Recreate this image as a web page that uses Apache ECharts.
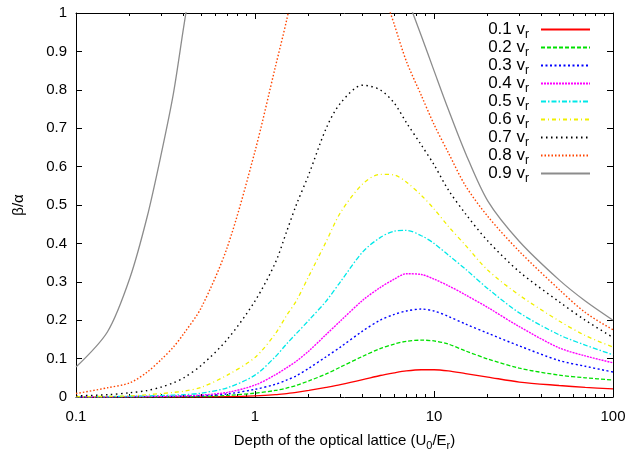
<!DOCTYPE html>
<html>
<head>
<meta charset="utf-8">
<script src="https://cdn.jsdelivr.net/npm/echarts@6/dist/echarts.min.js"></script>
<style>html,body{margin:0;padding:0;background:#fff}#c{width:629px;height:457px}</style>
</head>
<body>
<div id="c"></div>
<script>
// Depth of the optical lattice (U0/Er) sample points
const depth = [0.1, 0.15, 0.2, 0.25, 0.3, 0.35, 0.4, 0.5, 0.7, 1, 1.3, 1.5, 1.7, 2, 2.5, 3, 4, 5, 6, 7, 8.5, 10, 12, 15, 20, 30, 50, 70, 100];

// legend labels (velocity in units of v_r)
const speeds = ['0.1', '0.2', '0.3', '0.4', '0.5', '0.6', '0.7', '0.8', '0.9'];

// beta/alpha values for each velocity (null = off the top of the plot)
const v01 = [0.0001,0.0001,0.0001,0.0002,0.0002,0.0003,0.0003,0.0005,0.001,0.003,0.006,0.009,0.012,0.017,0.025,0.032,0.045,0.056,0.063,0.068,0.071,0.071,0.068,0.061,0.052,0.039,0.030,0.025,0.021];
const v02 = [0.0002,0.0003,0.0004,0.0005,0.0006,0.0008,0.001,0.0015,0.004,0.01,0.017,0.023,0.03,0.042,0.06,0.078,0.106,0.126,0.138,0.145,0.148,0.146,0.138,0.12,0.099,0.075,0.057,0.05,0.044];
const v03 = [0.0003,0.0005,0.0007,0.001,0.0013,0.0016,0.002,0.003,0.008,0.02,0.033,0.044,0.055,0.075,0.105,0.13,0.172,0.2,0.215,0.224,0.229,0.224,0.21,0.19,0.166,0.133,0.095,0.08,0.065];
const v04 = [0.0005,0.0008,0.001,0.0015,0.002,0.0025,0.003,0.005,0.012,0.031,0.058,0.076,0.093,0.12,0.163,0.198,0.252,0.285,0.307,0.321,0.319,0.307,0.29,0.266,0.233,0.183,0.128,0.107,0.089];
const v05 = [0.0008,0.0012,0.002,0.003,0.004,0.005,0.006,0.01,0.024,0.057,0.105,0.138,0.165,0.2,0.25,0.3,0.378,0.415,0.432,0.434,0.42,0.40,0.37,0.333,0.282,0.219,0.162,0.135,0.11];
const v06 = [0.001,0.0015,0.003,0.006,0.009,0.012,0.015,0.025,0.057,0.103,0.165,0.212,0.25,0.315,0.405,0.48,0.555,0.58,0.578,0.56,0.525,0.49,0.445,0.395,0.33,0.265,0.198,0.16,0.13];
const v07 = [0.003,0.006,0.011,0.017,0.026,0.037,0.05,0.082,0.15,0.25,0.35,0.43,0.50,0.58,0.70,0.765,0.812,0.80,0.765,0.715,0.656,0.605,0.54,0.477,0.406,0.326,0.248,0.2,0.155];
const v08 = [0.009,0.024,0.037,0.065,0.098,0.13,0.165,0.232,0.39,0.64,0.86,0.98,1.1,null,null,null,null,1.08,0.97,0.875,0.785,0.71,0.637,0.55,0.47,0.379,0.28,0.22,0.175];
const v09 = [0.078,0.17,0.31,0.47,0.635,0.79,0.965,1.25,null,null,null,null,null,null,null,null,null,null,null,1.045,0.94,0.85,0.75,0.635,0.51,0.405,0.305,0.25,0.2];

const allValues = [v01, v02, v03, v04, v05, v06, v07, v08, v09];

// axis ticks
const xMajorTicks = [0.1, 1, 10, 100];
const xMinorFactors = [2, 3, 4, 5, 6, 7, 8, 9];

const colors = ['#ff0000', '#00e000', '#0000ff', '#ff00ff', '#00e8e8', '#f0f000', '#000000', '#ff4500', '#8c8c8c'];
const dashes = ['solid', [4, 2], [2, 2.5], [2, 1], [5, 2, 1.5, 2], [4, 3, 1, 3], [1.5, 3.5], [1.5, 2], 'solid'];
const widths = [1.3, 1.3, 1.4, 1.4, 1.3, 1.3, 1.4, 1.4, 1.3];

const FONT = 'Liberation Sans';
const minorTicks = [];
xMajorTicks.slice(0, -1).forEach(d => xMinorFactors.forEach(k => minorTicks.push(d * k)));

const chart = echarts.init(document.getElementById('c'), null, {renderer: 'canvas'});

const tickStyle = {color: '#000', width: 1};
const lineAx = {show: true, onZero: false, lineStyle: {color: '#000', width: 1}};
const crisp = v => Math.round(v - 0.5) + 0.5;

const series = speeds.map((s, i) => ({
  name: s, type: 'line', xAxisIndex: 0, yAxisIndex: 0,
  symbol: 'none', smooth: 0.3, clip: true, connectNulls: false, silent: true,
  data: depth.map((x, j) => [x, allValues[i][j]]),
  lineStyle: {color: colors[i], width: widths[i], type: dashes[i]},
  itemStyle: {color: colors[i]},
  emphasis: {disabled: true}
}));

// minor ticks of the log axis (bottom and mirrored top), placed through the axis scale
series.push({
  type: 'custom', xAxisIndex: 0, yAxisIndex: 0, silent: true, clip: false,
  data: minorTicks.map(v => [v, 0]),
  renderItem: (params, api) => {
    const v = api.value(0);
    const b = api.coord([v, 0]);
    const t = api.coord([v, 1]);
    const x = crisp(b[0]);
    return {type: 'group', children: [
      {type: 'line', shape: {x1: x, y1: b[1], x2: x, y2: b[1] - 3}, style: {stroke: '#000', lineWidth: 1}},
      {type: 'line', shape: {x1: x, y1: t[1], x2: x, y2: t[1] + 3}, style: {stroke: '#000', lineWidth: 1}}
    ]};
  }
});

chart.setOption({
  animation: false,
  backgroundColor: '#fff',
  grid: {left: 76, right: 16, top: 13, bottom: 60, containLabel: false, outerBoundsMode: 'none'},
  legend: {
    orient: 'vertical', right: 38, top: 21, align: 'right', padding: 0,
    itemWidth: 49, itemHeight: 14, itemGap: -1.5, selectedMode: false,
    data: speeds,
    itemStyle: {opacity: 0},
    formatter: n => `{m|${n} v}{s|r}{g| }`,
    textStyle: {
      color: '#000', fontFamily: FONT,
      rich: {
        m: {fontSize: 17, lineHeight: 22, fontFamily: FONT, color: '#000'},
        s: {fontSize: 12, verticalAlign: 'bottom', fontFamily: FONT, color: '#000'},
        g: {width: 7, fontSize: 12}
      }
    }
  },
  xAxis: [
    {
      type: 'log', logBase: 10, min: 0.1, max: 100, position: 'bottom',
      axisLine: lineAx,
      axisTick: {inside: true, length: 6, lineStyle: tickStyle},
      axisLabel: {fontSize: 15, color: '#000', fontFamily: FONT, margin: 12},
      splitLine: {show: false}, minorTick: {show: false},
      name: '{n|Depth of the optical lattice (U}{s|0}{n|/E}{s|r}{n|)}',
      nameLocation: 'middle', nameGap: 34,
      nameTextStyle: {
        color: '#000', fontFamily: FONT,
        rich: {
          n: {fontSize: 15, lineHeight: 20, fontFamily: FONT, color: '#000'},
          s: {fontSize: 11, verticalAlign: 'bottom', fontFamily: FONT, color: '#000'}
        }
      }
    },
    {
      type: 'log', logBase: 10, min: 0.1, max: 100, position: 'top',
      axisLine: lineAx,
      axisTick: {inside: true, length: 6, lineStyle: tickStyle},
      axisLabel: {show: false}, splitLine: {show: false}
    }
  ],
  yAxis: [
    {
      type: 'value', min: 0, max: 1, interval: 0.1, position: 'left',
      axisLine: lineAx,
      axisTick: {inside: true, length: 6, lineStyle: tickStyle},
      axisLabel: {fontSize: 15, color: '#000', fontFamily: FONT, margin: 9},
      splitLine: {show: false},
      name: 'β/α', nameLocation: 'middle', nameGap: 50,
      nameTextStyle: {fontSize: 15, color: '#000', fontFamily: FONT}
    },
    {
      type: 'value', min: 0, max: 1, interval: 0.1, position: 'right',
      axisLine: lineAx,
      axisTick: {inside: true, length: 6, lineStyle: tickStyle},
      axisLabel: {show: false}, splitLine: {show: false}
    }
  ],
  series: series
});
</script>
</body>
</html>
